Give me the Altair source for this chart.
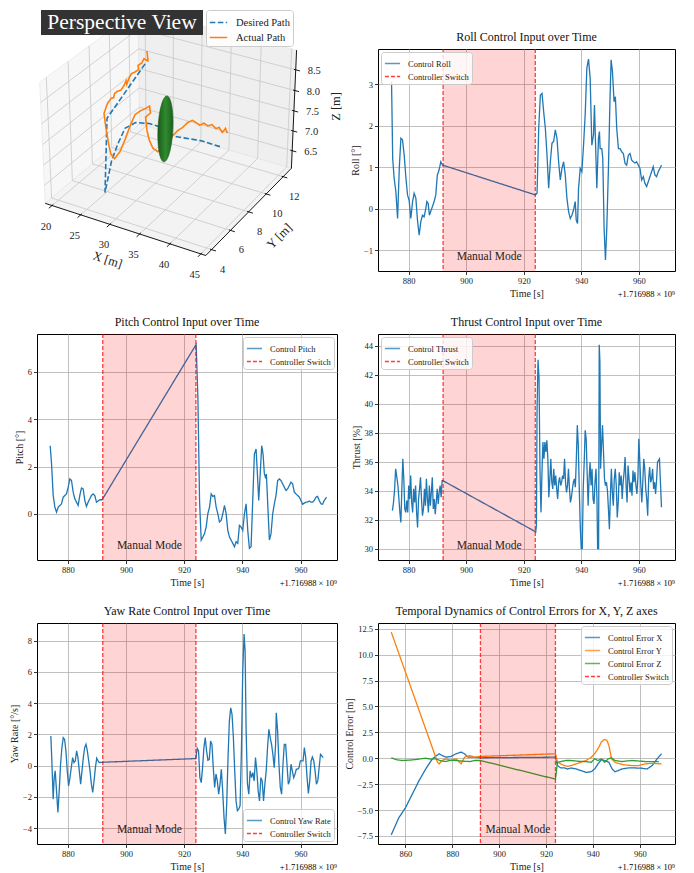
import numpy as np
import pandas as pd
import altair as alt

SERIF = "Liberation Serif"
BLUE, ORANGE, GREEN, RED = "#1f77b4", "#ff7f0e", "#2ca02c", "red"
SWITCH_T = [892.0, 924.0]
OFFSET_LABEL = "+1.716988 × 10⁹"

# ---------------- time series (t [s, offset], value) ----------------
ROLL = [(874.1, 3.06), (874.5, 1.21), (875.0, 0.73), (875.6, 0.41), (876.2, -0.24), (876.8, 1.0),
        (877.35, 1.70), (877.9, 1.66), (878.5, 1.29), (879.1, 0.73), (879.65, 0.33), (880.2, 0.20),
        (880.8, -0.24), (881.4, 0.17), (881.95, 0.37), (882.55, 0.25), (883.1, -0.28), (883.7, -0.64),
        (884.25, -0.32), (884.85, -0.16), (885.4, -0.20), (886.0, 0.0), (886.35, 0.17), (886.8, 0.13),
        (887.25, -0.16), (887.7, -0.07), (888.3, 0.05), (888.9, 0.17), (889.45, 0.33), (890.0, 0.81),
        (890.6, 0.93), (891.2, 1.13), (891.8, 1.05),
        (924.03, 0.33), (924.61, 0.37), (925.19, 1.94), (925.76, 2.74), (926.34, 2.78), (926.91, 2.34),
        (927.49, 1.94), (928.07, 1.29), (928.64, 0.49), (929.22, 1.13), (929.80, 1.58), (930.37, 1.62),
        (930.95, 1.90), (931.53, 1.70), (932.10, 1.13), (932.68, 0.69), (933.25, 0.97), (933.83, 1.13),
        (934.41, 0.81), (934.98, 0.25), (935.56, -0.07), (936.14, -0.24), (936.71, -0.16), (937.29, -0.03),
        (937.87, 0.17), (938.21, -0.28), (938.67, -0.36), (939.02, 0.49), (939.60, 0.97), (940.17, 0.89),
        (940.75, 1.53), (941.32, 2.26), (941.90, 3.39), (942.48, 3.61), (943.05, 3.15), (943.63, 1.53),
        (944.21, 1.78), (944.55, 2.50), (944.90, 1.62), (945.36, 0.49), (945.94, 1.70), (946.28, 1.86),
        (946.51, 1.45), (947.09, 1.45), (947.43, 1.21), (947.89, -0.48), (948.36, -1.24), (948.82, -0.48),
        (949.39, 0.97), (949.97, 2.74), (950.32, 3.59), (950.78, 3.31), (951.35, 2.58), (951.81, 2.70),
        (952.27, 1.94), (952.85, 1.45), (953.43, 1.45), (954.00, 1.37), (954.58, 1.33), (955.16, 1.09),
        (955.73, 1.05), (956.31, 1.29), (956.88, 1.33), (957.46, 1.17), (958.04, 1.13), (958.61, 1.10),
        (959.19, 1.13), (959.77, 1.05), (960.34, 0.97), (960.92, 0.69), (961.50, 0.77), (962.07, 0.61),
        (962.65, 0.53), (963.23, 0.65), (963.80, 0.77), (964.38, 0.89), (964.95, 1.01), (965.53, 0.81),
        (966.11, 0.77), (966.68, 0.89), (967.84, 1.05)]

PITCH = [(873.94, 2.88), (874.4, 2.11), (874.97, 0.78), (875.54, 0.29), (876.11, 0.08), (876.69, 0.29),
         (877.26, 0.36), (877.83, 0.43), (878.4, 0.71), (878.97, 0.78), (879.54, 0.85), (880.11, 1.13),
         (880.69, 1.48), (881.26, 1.41), (881.83, 0.92), (882.4, 0.64), (882.97, 0.50), (883.54, 0.36),
         (884.11, 0.78), (884.69, 1.10), (885.26, 1.06), (885.83, 0.57), (886.4, 0.32), (886.97, 0.50),
         (887.54, 0.64), (888.11, 0.78), (888.69, 0.85), (889.26, 0.78), (889.83, 0.50), (890.4, 0.55),
         (890.97, 0.60), (891.77, 0.60),
         (924.1, 7.15), (924.69, 4.91), (925.26, 0.57), (925.83, -1.1), (926.4, -0.97), (926.97, -0.83),
         (927.54, -0.55), (928.11, 0.01), (928.69, 0.29), (929.26, 0.85), (929.83, 0.74), (930.4, 0.78),
         (930.97, 0.29), (931.54, 0.01), (932.11, -0.34), (932.69, -0.27), (933.26, 0.01), (933.83, 0.36),
         (934.4, 0.01), (934.97, -0.69), (935.54, -0.97), (936.11, -1.1), (936.69, -1.24), (937.26, -1.38),
         (937.83, -1.17), (938.4, -1.24), (938.97, -0.48), (939.54, -0.55), (940.11, -0.69), (940.69, 0.01),
         (941.26, 0.43), (941.83, -0.69), (942.4, -1.45), (942.97, -1.38), (943.54, 0.57), (944.11, 2.53),
         (944.69, 2.74), (945.26, 1.41), (945.6, 0.57), (946.17, 1.83), (946.63, 2.88), (947.09, 2.53),
         (947.54, 1.69), (947.89, 1.55), (948.23, 1.69), (948.69, 0.43), (949.26, -1.1), (949.83, -0.83),
         (950.4, 0.01), (950.97, 0.43), (951.54, 0.78), (952.11, 1.41), (952.69, 1.48), (953.26, 1.41),
         (953.83, 1.27), (954.4, 1.13), (954.97, 0.99), (955.54, 1.06), (956.11, 1.2), (956.69, 1.34),
         (957.26, 1.27), (957.83, 0.92), (958.4, 0.85), (958.97, 0.78), (959.54, 0.71), (960.11, 0.57),
         (960.69, 0.41), (961.26, 0.46), (961.83, 0.5), (962.4, 0.5), (962.97, 0.55), (963.54, 0.5),
         (964.11, 0.5), (964.69, 0.57), (965.26, 0.71), (965.83, 0.74), (966.4, 0.57), (966.97, 0.43),
         (967.54, 0.41), (968.11, 0.57), (968.91, 0.71)]

THRUST = [(874.39, 32.64), (874.73, 33.1), (875.18, 34.14), (875.52, 35.52), (875.86, 35.06), (876.32, 34.37),
          (876.66, 33.44), (877.0, 32.52), (877.34, 31.83), (877.68, 34.14), (878.02, 36.21), (878.36, 34.83),
          (878.7, 32.75), (879.05, 32.52), (879.39, 33.33), (879.73, 32.52), (880.07, 34.37), (880.41, 33.44),
          (880.75, 35.06), (881.09, 33.21), (881.43, 32.52), (881.77, 34.14), (882.11, 33.21), (882.45, 34.37),
          (882.8, 32.52), (883.14, 31.48), (883.48, 33.44), (883.82, 34.14), (884.16, 34.94), (884.5, 33.44),
          (884.84, 32.29), (885.18, 32.75), (885.52, 34.14), (885.86, 32.98), (886.2, 34.83), (886.55, 33.44),
          (886.89, 32.52), (887.23, 34.37), (887.57, 32.98), (887.91, 33.9), (888.25, 34.94), (888.59, 32.75),
          (888.93, 33.44), (889.27, 32.4), (889.61, 33.21), (889.95, 34.14), (890.3, 33.1), (890.64, 33.9),
          (890.98, 34.37), (891.32, 33.56), (891.66, 34.71), (891.89, 34.71),
          (924.16, 31.18), (924.39, 31.6), (924.61, 39.45), (924.95, 43.03), (925.3, 41.76), (925.64, 35.29),
          (925.98, 32.52), (926.32, 35.29), (926.66, 37.37), (927.0, 36.21), (927.34, 37.37), (927.68, 36.68),
          (928.02, 37.49), (928.36, 36.21), (928.7, 33.56), (929.05, 34.83), (929.39, 36.21), (929.73, 34.6),
          (930.07, 34.14), (930.41, 35.52), (930.75, 34.37), (931.09, 35.06), (931.43, 34.14), (931.77, 33.44),
          (932.11, 34.6), (932.45, 34.94), (932.8, 34.37), (933.14, 34.6), (933.48, 35.06), (933.82, 34.83),
          (934.16, 36.21), (934.5, 34.6), (934.84, 33.9), (935.18, 34.37), (935.52, 35.52), (935.86, 34.14),
          (936.2, 33.21), (936.55, 33.56), (936.89, 34.14), (937.23, 34.6), (937.57, 34.83), (937.91, 34.25),
          (938.25, 36.21), (938.59, 38.53), (938.93, 37.14), (939.27, 34.14), (939.61, 31.6), (939.95, 30.02),
          (940.3, 30.02), (940.64, 34.14), (940.98, 35.98), (941.32, 38.18), (941.66, 37.6), (942.0, 35.29),
          (942.34, 32.98), (942.68, 34.83), (943.02, 35.98), (943.36, 34.37), (943.7, 35.52), (944.05, 33.44),
          (944.39, 33.1), (944.73, 34.6), (945.07, 35.52), (945.41, 33.44), (945.64, 30.02), (945.98, 30.02),
          (946.2, 44.07), (946.43, 42.91), (946.66, 35.52), (947.0, 37.14), (947.34, 38.53), (947.68, 36.68),
          (948.02, 34.83), (948.36, 34.37), (948.7, 34.6), (949.05, 34.02), (949.39, 32.75), (949.73, 31.36),
          (950.07, 33.67), (950.41, 35.52), (950.75, 33.9), (951.09, 32.98), (951.43, 34.83), (951.77, 35.52),
          (952.11, 34.37), (952.45, 32.17), (952.8, 33.21), (953.14, 35.29), (953.48, 34.37), (953.82, 35.06),
          (954.16, 33.44), (954.5, 34.6), (954.84, 35.29), (955.18, 36.33), (955.52, 34.37), (955.86, 33.21),
          (956.2, 35.75), (956.55, 34.83), (956.89, 33.9), (957.23, 34.6), (957.57, 33.67), (957.91, 35.41),
          (958.25, 34.6), (958.59, 35.29), (958.93, 34.37), (959.27, 33.79), (959.61, 34.83), (959.95, 37.6),
          (960.3, 35.98), (960.64, 34.37), (960.98, 33.21), (961.32, 34.6), (961.66, 36.21), (962.0, 35.52),
          (962.34, 34.14), (962.68, 33.44), (963.02, 32.29), (963.36, 34.83), (963.7, 35.64), (964.05, 34.6),
          (964.39, 34.83), (964.73, 35.52), (965.07, 34.14), (965.41, 34.6), (965.75, 33.79), (966.09, 34.71),
          (966.43, 35.98), (966.77, 36.1), (967.11, 36.21), (967.45, 34.6), (967.8, 32.87)]

YAW = [(874.16, 1.89), (874.5, 0.3), (874.96, -2.15), (875.31, -0.77), (875.65, -0.34), (876.11, -1.62),
       (876.58, -3.0), (877.04, -1.62), (877.5, 0.09), (877.96, 1.15), (878.42, 1.79), (878.88, 1.68),
       (879.34, 0.94), (879.8, -0.34), (880.26, -1.3), (880.72, -0.77), (881.18, -0.13), (881.64, 0.51),
       (882.1, 0.19), (882.56, 0.3), (883.02, 0.94), (883.48, 0.51), (883.94, -0.34), (884.4, -1.19),
       (884.86, -0.34), (885.32, 0.51), (885.78, 1.15), (886.24, 1.36), (886.7, 0.94), (887.17, 0.3),
       (887.63, -0.34), (888.09, -1.19), (888.55, -1.72), (889.01, -0.98), (889.47, -0.13), (889.93, 0.47),
       (890.39, 0.3), (890.85, 0.19), (891.54, 0.21),
       (924.0, 0.45), (924.46, 1.11), (924.92, 0.94), (925.38, -0.77), (925.84, -1.09), (926.3, -0.13),
       (926.76, 1.15), (927.22, 1.79), (927.68, 0.94), (928.14, 0.34), (928.6, 0.4), (929.06, 1.57),
       (929.52, 1.36), (929.98, -0.13), (930.45, -1.4), (930.91, -0.55), (931.37, -0.98), (931.83, -1.83),
       (932.29, -1.19), (932.75, -0.23), (933.21, -1.62), (933.67, -3.32), (934.13, -4.38), (934.59, -2.47),
       (935.05, 0.51), (935.51, 2.85), (935.97, 3.7), (936.43, 3.28), (936.89, 1.79), (937.35, -0.34),
       (937.81, -2.26), (938.27, -2.89), (938.73, -2.79), (939.19, -2.57), (939.65, 0.94), (940.11, 6.04),
       (940.57, 8.43), (940.92, 7.32), (941.27, 2.21), (941.73, -1.19), (942.19, -1.83), (942.65, -0.34),
       (943.11, -0.77), (943.57, -0.45), (944.03, -0.98), (944.49, 0.51), (944.95, -0.34), (945.41, -1.62),
       (945.87, -2.26), (946.33, -0.77), (946.79, -0.98), (947.25, -2.26), (947.71, -1.19), (948.17, -0.34),
       (948.63, 1.15), (949.09, 2.32), (949.55, 1.79), (950.01, 1.36), (950.47, 0.72), (950.93, -0.13),
       (951.4, 1.36), (951.63, 3.38), (952.09, 2.21), (952.55, 0.09), (953.01, -1.4), (953.47, -1.83),
       (953.93, 0.09), (954.39, 1.36), (954.85, 1.36), (955.31, 0.09), (955.77, -1.19), (956.23, -0.98),
       (956.69, 0.09), (957.15, -0.34), (957.61, -0.77), (958.07, -0.55), (958.53, -0.23), (958.99, -0.23),
       (959.45, -0.13), (959.91, 0.3), (960.37, 0.3), (960.83, 0.3), (961.29, 1.15), (961.75, 0.51),
       (962.21, -0.77), (962.67, -1.79), (963.13, -0.98), (963.59, 0.3), (964.05, 0.55), (964.51, 0.3),
       (964.97, -0.34), (965.43, -1.19), (965.89, -0.98), (966.36, -0.13), (966.82, 0.72), (967.28, 0.62),
       (967.74, 0.51)]

ERR_X = [(853.95, -7.4), (857.12, -5.77), (860.0, -4.79), (862.88, -3.49), (865.77, -2.18), (868.65, -1.04),
         (871.53, -0.06), (872.97, 0.2), (874.41, 0.43), (875.57, 0.27), (877.3, 0.1), (879.46, 0.17),
         (881.62, 0.43), (883.78, 0.59), (885.22, 0.43), (886.67, 0.1), (888.83, 0.1), (892.0, 0.04),
         (924.0, 0.1), (924.86, -0.71), (926.31, -0.94), (927.75, -0.94), (929.19, -1.04), (930.63, -0.94),
         (932.79, -1.04), (934.95, -1.2), (937.12, -1.37), (939.28, -1.3), (940.72, -1.04), (942.16, -0.55),
         (943.6, -0.13), (945.05, -0.22), (946.78, -0.39), (948.22, -1.04), (949.37, -1.3), (950.81, -1.2),
         (952.25, -1.04), (955.14, -0.94), (958.02, -0.94), (960.9, -0.97), (963.07, -1.04), (965.23, -0.71),
         (967.39, -0.06), (969.26, 0.43)]
ERR_Y = [(853.95, 12.17), (873.69, -0.39), (874.41, -0.55), (875.57, -0.22), (877.3, -0.06), (879.46, -0.22),
         (881.62, -0.06), (883.78, -0.55), (885.22, 0.1), (887.39, 0.26), (889.55, 0.1), (892.0, 0.17),
         (924.0, 0.43), (924.86, -0.39), (926.31, -0.55), (927.75, -0.71), (929.19, -0.78), (930.63, -0.71),
         (932.79, -0.55), (934.95, -0.39), (937.12, -0.22), (939.28, 0.1), (940.72, 0.43), (942.16, 0.92),
         (943.6, 1.57), (944.76, 1.8), (945.91, 1.73), (946.78, 1.24), (947.93, -0.06), (949.37, -0.39),
         (951.53, -0.55), (953.69, -0.65), (956.58, -0.71), (959.46, -0.71), (962.34, -0.55), (965.23, -0.49),
         (969.26, -0.55)]
ERR_Z = [(853.95, 0.04), (856.4, -0.16), (858.56, -0.22), (861.44, -0.19), (864.32, -0.13), (866.49, -0.06),
         (868.65, 0.0), (870.81, -0.09), (872.97, -0.06), (875.14, -0.26), (877.3, -0.32), (879.46, -0.19),
         (881.62, -0.22), (884.5, -0.29), (887.39, -0.32), (889.55, -0.22), (892.0, -0.22),
         (924.0, -2.02), (924.86, -0.39), (926.31, -0.32), (928.47, -0.22), (930.63, -0.22), (933.51, -0.29),
         (936.4, -0.32), (939.28, -0.39), (940.72, -0.06), (942.16, -0.22), (943.6, -0.06), (945.05, -0.39),
         (946.49, -0.06), (947.93, 0.04), (949.37, -0.22), (952.25, -0.32), (956.58, -0.22), (962.34, -0.32),
         (968.11, -0.32)]

# ---------------- 3D flight paths (x, y, z in m) ----------------
DESIRED = [(26.3, 9.23, 8.6), (22.8, 7.36, 7.5), (26.4, 5.0, 6.31), (25.35, 6.3, 6.78), (24.7, 7.3, 6.95),
           (24.25, 8.3, 7.12), (25.1, 8.9, 7.18), (27.4, 8.95, 7.24), (29.5, 9.0, 7.22), (32.3, 8.6, 7.2),
           (36.4, 8.9, 7.2), (39.9, 8.86, 7.2)]
ACTUAL = [(26.36, 9.4, 8.88), (26.6, 9.35, 8.66), (26.0, 9.3, 8.7), (25.8, 9.2, 8.61), (25.3, 9.1, 8.55),
          (25.4, 9.1, 8.45), (24.9, 9.0, 8.39), (24.5, 8.9, 8.36), (24.2, 8.8, 8.25), (24.0, 8.7, 8.12),
          (23.9, 8.7, 8.2), (23.64, 8.6, 8.08), (23.4, 8.45, 8.0), (23.07, 8.3, 7.99), (22.8, 8.15, 7.95),
          (22.7, 8.1, 7.85), (22.49, 8.0, 7.86), (22.11, 7.8, 7.74), (22.04, 7.5, 7.56), (22.83, 7.2, 7.32),
          (23.94, 6.8, 7.07), (25.04, 6.4, 6.91), (25.86, 6.3, 6.85), (26.12, 6.7, 6.95), (26.2, 7.2, 7.16),
          (26.17, 7.7, 7.37), (26.4, 8.1, 7.59), (26.82, 8.4, 7.64), (27.2, 8.6, 7.66), (27.9, 8.7, 7.74),
          (28.07, 8.7, 7.58), (27.2, 8.7, 7.44), (27.25, 8.8, 7.1), (27.45, 8.9, 6.85), (28.1, 8.9, 6.66),
          (28.97, 8.9, 6.61), (29.99, 8.9, 6.78), (31.35, 8.9, 7.08), (32.37, 8.9, 7.28), (33.2, 8.9, 7.39),
          (34.07, 8.9, 7.55), (34.9, 8.9, 7.64), (35.43, 8.9, 7.61), (36.1, 8.9, 7.57), (36.8, 8.9, 7.65),
          (37.47, 8.9, 7.61), (38.14, 8.9, 7.67), (38.82, 8.9, 7.6), (39.34, 8.9, 7.65), (39.86, 8.9, 7.55),
          (40.38, 8.9, 7.67), (40.7, 8.9, 7.57)]
GATE_CENTER = (30.3, 8.9, 7.23)
GATE_RADIUS = 0.8

XL, YL, ZL = (18.8, 45.8), (3.4, 13.0), (6.05, 8.97)
XT, YT, ZT = [20, 25, 30, 35, 40, 45], [4, 6, 8, 10, 12], [6.5, 7.0, 7.5, 8.0, 8.5]

# view (matplotlib-like camera: elev 30, azim -60, dist 10)
ELEV, AZIM, DIST = 30.0, -60.0, 10.0
BOX = np.array([4.0, 4.0, 3.0]) / np.linalg.norm([4.0, 4.0, 3.0]) * 1.8294640721620434
PX, CX, CY = 1610.0, 171.5, 124.0
FRAME_X, FRAME_Y = [38, 338], [46, 268]


def proj(x, y, z):
    x = np.atleast_1d(np.asarray(x, float))
    y = np.atleast_1d(np.asarray(y, float))
    z = np.atleast_1d(np.asarray(z, float))
    e, a = np.radians(ELEV), np.radians(AZIM)
    w = np.array([np.cos(e) * np.cos(a), np.cos(e) * np.sin(a), np.sin(e)])
    u = np.cross([0.0, 0.0, 1.0], w)
    u = u / np.linalg.norm(u)
    v = np.cross(w, u)
    p = np.stack([(x - XL[0]) / (XL[1] - XL[0]) * BOX[0],
                  (y - YL[0]) / (YL[1] - YL[0]) * BOX[1],
                  (z - ZL[0]) / (ZL[1] - ZL[0]) * BOX[2]], axis=-1) - BOX / 2
    depth = DIST - p @ w
    return CX + PX * (p @ u) / depth, CY - PX * (p @ v) / depth


def poly_rows(key, pts, store, **extra):
    xs, ys, zs = zip(*pts)
    sx, sy = proj(xs, ys, zs)
    for i, (a, b) in enumerate(zip(sx, sy)):
        store.append(dict(key=key, i=i, sx=float(a), sy=float(b), **extra))


def sx_enc():
    return alt.X("sx:Q", scale=alt.Scale(domain=FRAME_X, nice=False, zero=False), axis=None)


def sy_enc():
    return alt.Y("sy:Q", scale=alt.Scale(domain=FRAME_Y, nice=False, zero=False, reverse=True), axis=None)


def build_3d(w, h):
    X0, X1 = XL
    Y0, Y1 = YL
    Z0, Z1 = ZL
    panes = {
        "left": ("#f7f7f7", [(X0, Y0, Z0), (X0, Y1, Z0), (X0, Y1, Z1), (X0, Y0, Z1), (X0, Y0, Z0)]),
        "back": ("#efefef", [(X0, Y1, Z0), (X1, Y1, Z0), (X1, Y1, Z1), (X0, Y1, Z1), (X0, Y1, Z0)]),
        "floor": ("#f3f3f3", [(X0, Y0, Z0), (X1, Y0, Z0), (X1, Y1, Z0), (X0, Y1, Z0), (X0, Y0, Z0)]),
    }
    layers = []
    for name, (col, pts) in panes.items():
        rows = []
        poly_rows(name, pts, rows)
        layers.append(alt.Chart(pd.DataFrame(rows)).mark_line(fill=col, stroke="#e2e2e2", strokeWidth=0.6)
                      .encode(x=sx_enc(), y=sy_enc(), order="i:Q"))
    grid = []
    k = 0
    for xt in XT:
        poly_rows(k, [(xt, Y0, Z0), (xt, Y1, Z0)], grid); k += 1
        poly_rows(k, [(xt, Y1, Z0), (xt, Y1, Z1)], grid); k += 1
    for yt in YT:
        poly_rows(k, [(X0, yt, Z0), (X1, yt, Z0)], grid); k += 1
        poly_rows(k, [(X0, yt, Z0), (X0, yt, Z1)], grid); k += 1
    for zt in ZT:
        poly_rows(k, [(X0, Y0, zt), (X0, Y1, zt)], grid); k += 1
        poly_rows(k, [(X0, Y1, zt), (X1, Y1, zt)], grid); k += 1
    layers.append(alt.Chart(pd.DataFrame(grid)).mark_line(color="#c8c8c8", strokeWidth=0.8)
                  .encode(x=sx_enc(), y=sy_enc(), detail="key:N", order="i:Q"))
    axes = []
    poly_rows("ax", [(X0, Y0, Z0), (X1, Y0, Z0)], axes)
    poly_rows("ay", [(X1, Y0, Z0), (X1, Y1, Z0)], axes)
    poly_rows("az", [(X1, Y1, Z0), (X1, Y1, Z1)], axes)
    for j, xt in enumerate(XT):
        poly_rows(f"tx{j}", [(xt, Y0 + 0.12, Z0), (xt, Y0 - 0.3, Z0)], axes)
    for j, yt in enumerate(YT):
        poly_rows(f"ty{j}", [(X1 - 0.25, yt, Z0), (X1 + 0.7, yt, Z0)], axes)
    for j, zt in enumerate(ZT):
        poly_rows(f"tz{j}", [(X1 - 0.3, Y1, zt), (X1 + 0.7, Y1, zt)], axes)
    layers.append(alt.Chart(pd.DataFrame(axes)).mark_line(color="black", strokeWidth=0.9)
                  .encode(x=sx_enc(), y=sy_enc(), detail="key:N", order="i:Q"))

    paths = []
    poly_rows("Desired Path", DESIRED, paths, path="Desired Path")
    poly_rows("Actual Path", ACTUAL, paths, path="Actual Path")
    leg = alt.Legend(title=None, orient="none", legendX=169, legendY=-39, symbolType="stroke",
                     symbolSize=300, symbolStrokeWidth=1.6, labelFont=SERIF, labelFontSize=10.5,
                     labelColor="#222", fillColor="rgba(255,255,255,0.85)", strokeColor="#cccccc",
                     padding=3, cornerRadius=3, rowPadding=0, labelOffset=8)
    dom = ["Desired Path", "Actual Path"]
    layers.append(alt.Chart(pd.DataFrame(paths)).mark_line(strokeWidth=1.6)
                  .encode(x=sx_enc(), y=sy_enc(), order="i:Q",
                          color=alt.Color("path:N", scale=alt.Scale(domain=dom, range=[BLUE, ORANGE]), legend=leg),
                          strokeDash=alt.StrokeDash("path:N", scale=alt.Scale(domain=dom, range=[[5.5, 2.5], [1, 0]]),
                                                    legend=leg)))
    ang = np.linspace(0, 2 * np.pi, 61)
    cx, cy, cz = GATE_CENTER
    disk = []
    poly_rows("gate", [(cx, cy + GATE_RADIUS * np.cos(t), cz + GATE_RADIUS * np.sin(t)) for t in ang], disk)
    grad = {"gradient": "linear", "x1": 0, "y1": 0, "x2": 1, "y2": 0,
            "stops": [{"offset": 0, "color": "#1b5a1b"}, {"offset": 0.5, "color": "#2f8a2f"},
                      {"offset": 1, "color": "#1d601d"}]}
    layers.append(alt.Chart(pd.DataFrame(disk)).mark_line(fill=grad, stroke="#1b5a1b", strokeWidth=0.6)
                  .encode(x=sx_enc(), y=sy_enc(), order="i:Q"))

    labels = []
    for xt in XT:
        a, b = proj(xt, Y0, Z0)
        labels.append(dict(sx=float(a[0]) - 6, sy=float(b[0]) + 21, text=str(xt)))
    for yt in YT:
        a, b = proj(X1, yt, Z0)
        labels.append(dict(sx=float(a[0]) + 11, sy=float(b[0]) + 20, text=str(yt)))
    layers.append(alt.Chart(pd.DataFrame(labels)).mark_text(font=SERIF, fontSize=10.5, color="#222")
                  .encode(x=sx_enc(), y=sy_enc(), text="text:N"))
    zl = []
    for zt in ZT:
        a, b = proj(X1, Y1, zt)
        zl.append(dict(sx=float(a[0]) + 12, sy=float(b[0]) + 1, text=f"{zt:.1f}"))
    layers.append(alt.Chart(pd.DataFrame(zl)).mark_text(font=SERIF, fontSize=10.5, color="#222", align="left")
                  .encode(x=sx_enc(), y=sy_enc(), text="text:N"))
    for text, pt, off, angle in [("X [m]", (32.3, Y0, Z0), (-16, 31), 18),
                                 ("Y [m]", (X1, 8.2, Z0), (29, 26), 315),
                                 ("Z [m]", (X1, Y1, 7.51), (42, -4), 270)]:
        a, b = proj(*pt)
        df = pd.DataFrame([dict(sx=float(a[0]) + off[0], sy=float(b[0]) + off[1], text=text)])
        layers.append(alt.Chart(df).mark_text(font=SERIF, fontSize=12.5, color="#222", angle=angle)
                      .encode(x=sx_enc(), y=sy_enc(), text="text:N"))
    layers.append(alt.Chart(pd.DataFrame({"v": [0]})).mark_rect(color="#333333")
                  .encode(x=alt.value(4), x2=alt.value(166), y=alt.value(-39), y2=alt.value(-14)))
    layers.append(alt.Chart(pd.DataFrame({"text": ["Perspective View"]}))
                  .mark_text(font=SERIF, fontSize=21.5, color="white", baseline="middle")
                  .encode(x=alt.value(85), y=alt.value(-26), text="text:N"))
    return alt.layer(*layers).properties(width=w, height=h, view=alt.ViewBackground(stroke="transparent"))


def ts_panel(series, title, ytitle, ydom, yticks, xdom, xticks, orient, w, h, yfmt="d"):
    rows = []
    for name, _, pts in series:
        for t, v in pts:
            rows.append({"t": t, "v": v, "series": name})
    df = pd.DataFrame(rows)
    names = [n for n, _, _ in series] + ["Controller Switch"]
    colors = [c for _, c, _ in series] + [RED]
    dashes = [[1, 0] for _ in series] + [[4, 2]]
    leg = alt.Legend(title=None, orient=orient, offset=3, symbolType="stroke", symbolSize=230,
                     symbolStrokeWidth=1.5, labelFont=SERIF, labelFontSize=8.5, labelColor="#222",
                     fillColor="rgba(255,255,255,0.8)", strokeColor="#cccccc", padding=3, cornerRadius=3,
                     rowPadding=0, labelOffset=7)
    color = alt.Color("series:N", scale=alt.Scale(domain=names, range=colors), legend=leg)
    dash = alt.StrokeDash("series:N", scale=alt.Scale(domain=names, range=dashes), legend=leg)
    xax = alt.Axis(values=xticks, format="d", grid=True)
    x = alt.X("t:Q", title="Time [s]", scale=alt.Scale(domain=xdom, nice=False, zero=False), axis=xax)
    y = alt.Y("v:Q", title=ytitle, scale=alt.Scale(domain=ydom, nice=False, zero=False),
              axis=alt.Axis(values=yticks, format=yfmt, grid=True))
    lines = alt.Chart(df).mark_line(strokeWidth=1.3).encode(x=x, y=y, color=color, strokeDash=dash)
    span = (alt.Chart(pd.DataFrame({"t0": [SWITCH_T[0]], "t1": [SWITCH_T[1]]}))
            .mark_rect(color=RED, opacity=0.17)
            .encode(x=alt.X("t0:Q", title="Time [s]"), x2="t1:Q", y=alt.value(0), y2=alt.value(h)))
    rules = (alt.Chart(pd.DataFrame({"t": SWITCH_T, "series": ["Controller Switch"] * 2}))
             .mark_rule(strokeWidth=1.3, opacity=0.75)
             .encode(x=alt.X("t:Q", title="Time [s]"), color=color, strokeDash=dash))
    manual = (alt.Chart(pd.DataFrame({"t": [sum(SWITCH_T) / 2], "label": ["Manual Mode"]}))
              .mark_text(font=SERIF, fontSize=11.5, color="#222", baseline="middle")
              .encode(x=alt.X("t:Q", title="Time [s]"), y=alt.value(h - 14), text="label:N"))
    offs = (alt.Chart(pd.DataFrame({"label": [OFFSET_LABEL]}))
            .mark_text(font=SERIF, fontSize=8.5, color="black", align="right", baseline="top")
            .encode(x=alt.value(w), y=alt.value(h + 19), text="label:N"))
    return alt.layer(lines, span, rules, manual, offs).properties(
        width=w, height=h,
        title=alt.TitleParams(title, font=SERIF, fontSize=12, fontWeight="normal", offset=4, color="#111"))


XT_MAIN = [880, 900, 920, 940, 960]
XD_MAIN = [869.4, 972.5]
LW, RW = 300, 297
H1, H2, H3 = 222, 226, 221

c3d = build_3d(LW, H1)
roll = ts_panel([("Control Roll", BLUE, ROLL)], "Roll Control Input over Time", "Roll [°]",
                [-1.507, 3.853], [-1, 0, 1, 2, 3], XD_MAIN, XT_MAIN, "top-left", RW, H1)
pitch = ts_panel([("Control Pitch", BLUE, PITCH)], "Pitch Control Input over Time", "Pitch [°]",
                 [-1.94, 7.59], [0, 2, 4, 6], XD_MAIN, XT_MAIN, "top-right", LW, H2)
thrust = ts_panel([("Control Thrust", BLUE, THRUST)], "Thrust Control Input over Time", "Thrust [%]",
                  [29.24, 44.81], [30, 32, 34, 36, 38, 40, 42, 44], XD_MAIN, XT_MAIN, "top-left", RW, H2)
yaw = ts_panel([("Control Yaw Rate", BLUE, YAW)], "Yaw Rate Control Input over Time", "Yaw Rate [°/s]",
               [-5.02, 9.13], [-4, -2, 0, 2, 4, 6, 8], XD_MAIN, XT_MAIN, "bottom-right", LW, H3)
err = ts_panel([("Control Error X", BLUE, ERR_X), ("Control Error Y", ORANGE, ERR_Y),
                ("Control Error Z", GREEN, ERR_Z)],
               "Temporal Dynamics of Control Errors for X, Y, Z axes", "Control Error [m]",
               [-8.28, 13.05], [-7.5, -5.0, -2.5, 0.0, 2.5, 5.0, 7.5, 10.0, 12.5], [848.3, 975.0],
               [860, 880, 900, 920, 940, 960], "top-right", RW, H3, yfmt=".1f")

chart = (alt.concat(c3d, roll, pitch, thrust, yaw, err, columns=2)
         .properties(spacing={"row": 63, "column": 41}, bounds="flush", padding=0)
         .resolve_scale(x="independent", y="independent", color="independent", strokeDash="independent")
         .resolve_legend(color="independent", strokeDash="independent")
         .configure_view(stroke="black", strokeWidth=1)
         .configure_axis(labelFont=SERIF, titleFont=SERIF, labelFontSize=8.5, titleFontSize=10,
                         titleFontWeight="normal", labelColor="#222", titleColor="#222",
                         gridColor="#b0b0b0", gridWidth=0.8, tickColor="black", tickSize=3.5,
                         tickWidth=0.8, domain=False, labelPadding=2, titlePadding=3)
         .configure_text(font=SERIF))

chart.save("out.html", embed_options={"renderer": "svg", "actions": False})
